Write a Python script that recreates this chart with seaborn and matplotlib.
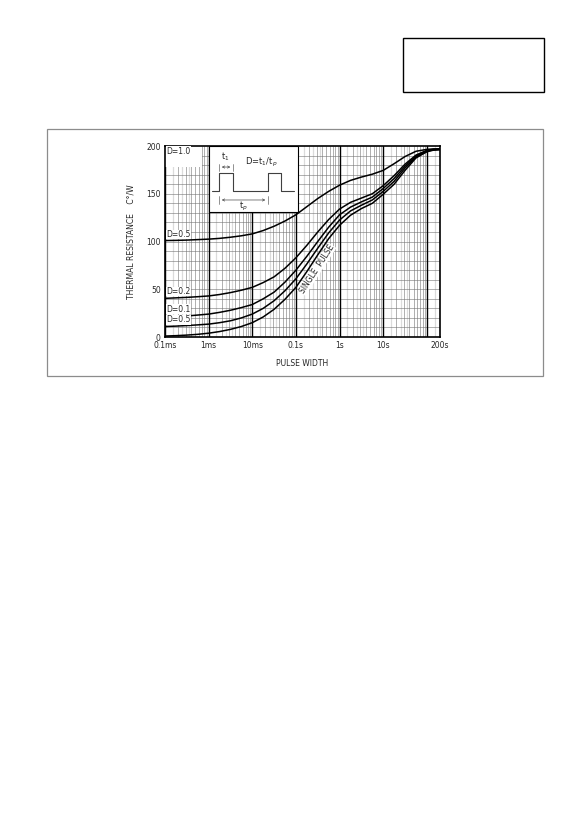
import matplotlib
matplotlib.use("Agg")
import matplotlib.pyplot as plt
from matplotlib.patches import Rectangle
import seaborn as sns
import pandas as pd

# pulse width read at log10 steps (seconds)
log_t = [-4, -3.75, -3.5, -3.25, -3, -2.75, -2.5, -2.25, -2, -1.75, -1.5, -1.25,
         -1, -0.75, -0.5, -0.25, 0, 0.25, 0.5, 0.75, 1, 1.25, 1.5, 1.75, 2, 2.15, 2.3]

# thermal resistance (C/W)
d_050 = [101, 101.2, 101.5, 102, 102.5, 103.3, 104.5, 106, 108, 111.5, 116, 121.5,
         128, 136.5, 145, 152.5, 159, 164, 167.5, 170.5, 174.5, 181.5, 189, 194.5,
         196.5, 197, 197]
d_020 = [40.5, 41, 41.5, 42.2, 43, 44.5, 46.5, 49, 52, 57, 63, 72,
         83, 96, 110, 123, 134, 141, 145.5, 150, 158.5, 169, 181, 190.5,
         195.5, 196.5, 196.8]
d_010 = [21, 21.4, 22, 23, 24, 25.8, 28, 30.8, 34, 40, 47, 57.5,
         70, 84.5, 100, 115, 128, 136, 141.5, 146.5, 155.5, 166, 179, 189.5,
         195, 196.3, 196.6]
d_005 = [11, 11.4, 12, 12.7, 13.5, 15, 17, 20, 24, 30, 38, 48.5,
         61, 76.5, 93, 109, 122.5, 132, 138, 143.5, 152.5, 163, 177, 188.5,
         194.5, 196, 196.4]
single = [1, 1.4, 2, 2.8, 4, 5.7, 8, 11, 15, 21, 29, 39.5,
          52, 68.5, 86, 103, 117, 127.5, 134.5, 140, 149.5, 160, 174.5, 187.5,
          194, 195.7, 196.2]

curve_names = ["D=0.5", "D=0.2", "D=0.1", "D=0.05", "single"]
curve_vals = [d_050, d_020, d_010, d_005, single]

x_ticks = [1e-4, 1e-3, 1e-2, 1e-1, 1, 10, 200]
x_ticklabels = ["0.1ms", "1ms", "10ms", "0.1s", "1s", "10s", "200s"]
y_ticks = [0, 50, 100, 150, 200]

rows = []
for name, vals in zip(curve_names, curve_vals):
    for lt, v in zip(log_t, vals):
        rows.append({"t": 10 ** lt, "r": v, "curve": name})
df = pd.DataFrame(rows)

sns.set_style("white")
plt.rcParams["font.family"] = ["DejaVu Sans"]

fig = plt.figure(figsize=(5.83, 8.26), dpi=100)
ax = fig.add_axes([0.283, 0.592, 0.4717, 0.2312])
ax.set_xscale("log")
ax.set_xlim(1e-4, 200)
ax.set_ylim(0, 200)

# grid
for dec in [1e-4, 1e-3, 1e-2, 1e-1, 1, 10, 100]:
    ax.axvline(dec, color="black", lw=1.0, zorder=1)
    for m in [1.5, 2.5, 3.5]:
        if dec * m < 200:
            ax.axvline(dec * m, color="0.86", lw=0.9, zorder=0.5)
    for m in range(2, 10):
        if dec * m < 200:
            ax.axvline(dec * m, color="0.45", lw=0.4, zorder=0.8)
for yv in range(10, 200, 10):
    ax.axhline(yv, color="0.45", lw=0.4, zorder=0.8)

sns.lineplot(data=df, x="t", y="r", hue="curve", palette=["black"] * 5,
             legend=False, lw=1.1, ax=ax, zorder=3)

for s in ax.spines.values():
    s.set_color("black")
    s.set_linewidth(1.2)

ax.set_xticks(x_ticks)
ax.set_xticklabels(x_ticklabels)
ax.xaxis.set_minor_locator(matplotlib.ticker.NullLocator())
ax.set_yticks(y_ticks)
ax.tick_params(labelsize=5.5, length=0, pad=3)
ax.set_xlabel("PULSE WIDTH", fontsize=5.5, labelpad=6)
ax.set_ylabel("THERMAL RESISTANCE    C°/W", fontsize=5.5, labelpad=8)

# white box behind the D=1.0 label
ax.add_patch(Rectangle((1e-4, 178), 10 ** -3.15 - 1e-4, 22, facecolor="white",
                       edgecolor="none", zorder=2))
lab_kw = dict(fontsize=5.5, ha="left", va="bottom", zorder=4,
              bbox=dict(facecolor="white", edgecolor="none", pad=0.1))
ax.text(1.07e-4, 190, "D=1.0", **lab_kw)
ax.text(1.07e-4, 103, "D=0.5", **lab_kw)
ax.text(1.07e-4, 43, "D=0.2", **lab_kw)
ax.text(1.07e-4, 24.5, "D=0.1", **lab_kw)
ax.text(1.07e-4, 13.2, "D=0.5", **lab_kw)
ax.text(0.3, 71, "SINGLE  PULSE", fontsize=5.5, rotation=57, ha="center",
        va="center", zorder=4,
        bbox=dict(facecolor="white", edgecolor="none", pad=0.3))

# inset with the pulse diagram
ax.add_patch(Rectangle((1e-3, 131), 10 ** -0.96 - 1e-3, 69, facecolor="white",
                       edgecolor="black", lw=0.8, zorder=4))
px = [10 ** v for v in [-2.92, -2.764, -2.764, -2.437, -2.437, -1.636, -1.636,
                        -1.346, -1.346, -1.048]]
py = [153, 153, 171.5, 171.5, 153, 153, 171.5, 171.5, 153, 153]
ax.plot(px, py, color="0.25", lw=0.8, zorder=5)
arr = dict(arrowstyle="<->", color="0.3", lw=0.5, mutation_scale=4)
ax.annotate("", xy=(10 ** -2.764, 178), xytext=(10 ** -2.437, 178),
            arrowprops=arr, zorder=5)
ax.annotate("", xy=(10 ** -2.764, 143.5), xytext=(10 ** -1.636, 143.5),
            arrowprops=arr, zorder=5)
ax.plot([10 ** -2.764] * 2, [174, 181], color="0.4", lw=0.5, zorder=5)
ax.plot([10 ** -2.437] * 2, [174, 181], color="0.4", lw=0.5, zorder=5)
ax.plot([10 ** -2.764] * 2, [139, 148], color="0.4", lw=0.5, zorder=5)
ax.plot([10 ** -1.636] * 2, [139, 148], color="0.4", lw=0.5, zorder=5)
ax.text(10 ** -2.62, 189, "t$_1$", fontsize=6, ha="center", va="center", zorder=6)
ax.text(10 ** -2.2, 136.5, "t$_p$", fontsize=6, ha="center", va="center", zorder=6)
ax.text(10 ** -1.8, 182.5, "D=t$_1$/t$_p$", fontsize=6, ha="center", va="center",
        zorder=6)

# outer frame and title box
fig.patches.append(Rectangle((47 / 583, 1 - 376 / 826), 496 / 583, 247 / 826,
                             transform=fig.transFigure, fill=False,
                             edgecolor="0.55", lw=0.9))
fig.patches.append(Rectangle((403 / 583, 1 - 92 / 826), 141 / 583, 54 / 826,
                             transform=fig.transFigure, fill=False,
                             edgecolor="black", lw=1.0))

fig.savefig("out.png", dpi=100)
